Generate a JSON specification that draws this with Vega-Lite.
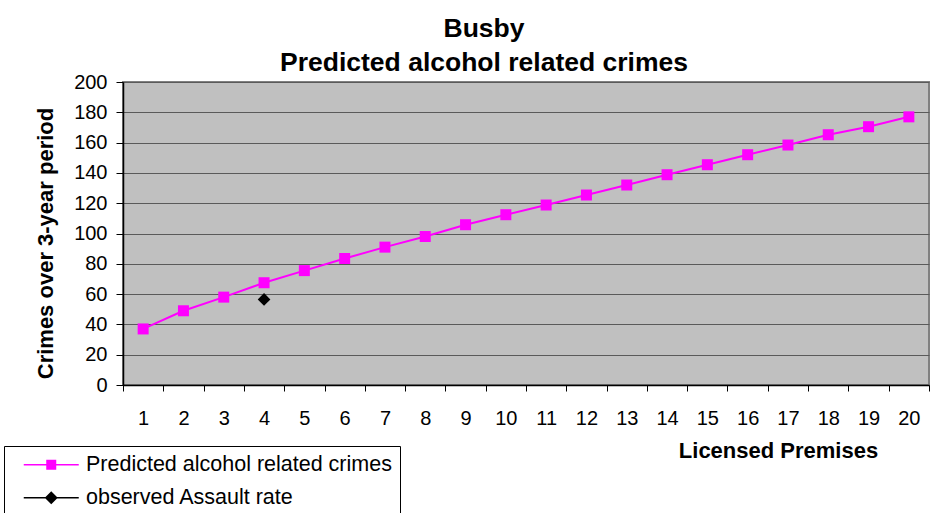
{
  "$schema": "https://vega.github.io/schema/vega-lite/v6.json",
  "autosize": "none",
  "width": 806,
  "height": 303,
  "padding": {"left": 123, "top": 82, "right": 17, "bottom": 128},
  "background": "white",
  "config": {
    "font": "Liberation Sans",
    "view": {"fill": "#c0c0c0", "stroke": "#808080", "strokeWidth": 2}
  },
  "title": {
    "text": ["Busby", "Predicted alcohol related crimes"],
    "fontSize": 26.5,
    "fontWeight": "bold",
    "font": "Liberation Sans",
    "color": "black",
    "anchor": "middle",
    "dx": -42,
    "dy": 11,
    "offset": 7,
    "lineHeight": 34
  },
  "data": {
    "values": [
      {"premises": 1, "series": "Predicted alcohol related crimes", "crimes": 37},
      {"premises": 2, "series": "Predicted alcohol related crimes", "crimes": 49},
      {"premises": 3, "series": "Predicted alcohol related crimes", "crimes": 58},
      {"premises": 4, "series": "Predicted alcohol related crimes", "crimes": 67.5},
      {"premises": 5, "series": "Predicted alcohol related crimes", "crimes": 75.5},
      {"premises": 6, "series": "Predicted alcohol related crimes", "crimes": 83.5},
      {"premises": 7, "series": "Predicted alcohol related crimes", "crimes": 91},
      {"premises": 8, "series": "Predicted alcohol related crimes", "crimes": 98},
      {"premises": 9, "series": "Predicted alcohol related crimes", "crimes": 105.8},
      {"premises": 10, "series": "Predicted alcohol related crimes", "crimes": 112.4},
      {"premises": 11, "series": "Predicted alcohol related crimes", "crimes": 118.8},
      {"premises": 12, "series": "Predicted alcohol related crimes", "crimes": 125.4},
      {"premises": 13, "series": "Predicted alcohol related crimes", "crimes": 132},
      {"premises": 14, "series": "Predicted alcohol related crimes", "crimes": 138.8},
      {"premises": 15, "series": "Predicted alcohol related crimes", "crimes": 145.4},
      {"premises": 16, "series": "Predicted alcohol related crimes", "crimes": 152},
      {"premises": 17, "series": "Predicted alcohol related crimes", "crimes": 158.4},
      {"premises": 18, "series": "Predicted alcohol related crimes", "crimes": 165.2},
      {"premises": 19, "series": "Predicted alcohol related crimes", "crimes": 170.5},
      {"premises": 20, "series": "Predicted alcohol related crimes", "crimes": 177},
      {"premises": 4, "series": "observed Assault rate", "crimes": 56.5}
    ]
  },
  "encoding": {
    "x": {
      "field": "premises",
      "type": "ordinal",
      "scale": {"domain": [1,2,3,4,5,6,7,8,9,10,11,12,13,14,15,16,17,18,19,20], "paddingInner": 0, "paddingOuter": 0},
      "axis": {
        "title": "Licensed Premises",
        "titleFontSize": 22,
        "titleFontWeight": "bold",
        "titleColor": "black",
        "titleX": 655,
        "titleY": 65,
        "titleAlign": "center",
        "titleBaseline": "middle",
        "labelAngle": 0,
        "labelFontSize": 20,
        "labelColor": "black",
        "labelPadding": 17,
        "tickBand": "extent",
        "tickSize": 6,
        "tickColor": "black",
        "domainColor": "black",
        "domainWidth": 1.5,
        "grid": false
      }
    },
    "y": {
      "field": "crimes",
      "type": "quantitative",
      "scale": {"domain": [0, 200], "nice": false, "zero": true},
      "axis": {
        "title": "Crimes over 3-year period",
        "titleFontSize": 22,
        "titleFontWeight": "bold",
        "titleColor": "black",
        "titleX": -78,
        "titleY": 161,
        "titleAngle": 270,
        "titleAlign": "center",
        "titleBaseline": "middle",
        "values": [0,20,40,60,80,100,120,140,160,180,200],
        "labelFontSize": 20,
        "labelColor": "black",
        "labelPadding": 9,
        "tickSize": 7,
        "tickColor": "black",
        "domainColor": "black",
        "domainWidth": 1.5,
        "grid": true,
        "gridColor": "#5a5a5a",
        "gridWidth": 1.2
      }
    }
  },
  "layer": [
    {
      "transform": [{"filter": "datum.series == 'Predicted alcohol related crimes'"}],
      "mark": {"type": "line", "color": "#ff00ff", "strokeWidth": 2}
    },
    {
      "transform": [{"filter": "datum.series == 'Predicted alcohol related crimes'"}],
      "mark": {"type": "point", "shape": "square", "filled": true, "color": "#ff00ff", "size": 121, "opacity": 1}
    },
    {
      "transform": [{"filter": "datum.series == 'observed Assault rate'"}],
      "mark": {"type": "point", "shape": "diamond", "filled": true, "color": "black", "size": 160, "opacity": 1}
    },
    {
      "mark": {"type": "point", "filled": true, "opacity": 0},
      "encoding": {
        "color": {
          "field": "series",
          "type": "nominal",
          "scale": {"domain": ["Predicted alcohol related crimes", "observed Assault rate"], "range": ["#ff00ff", "black"]},
          "legend": {
            "title": null,
            "orient": "none",
            "legendX": -119,
            "legendY": 364,
            "strokeColor": "black",
            "fillColor": "white",
            "padding": 8,
            "labelFontSize": 21.5,
            "labelColor": "black",
            "labelFont": "Liberation Sans",
            "labelOffset": 24,
            "labelLimit": 400,
            "symbolSize": 100,
            "symbolOffset": 28.5,
            "symbolStrokeWidth": 0,
            "symbolOpacity": 1,
            "rowPadding": 10,
            "encode": {"symbols": {"update": {"opacity": {"value": 1}}}}
          }
        },
        "shape": {
          "field": "series",
          "type": "nominal",
          "scale": {
            "domain": ["Predicted alcohol related crimes", "observed Assault rate"],
            "range": [
              "M-5.5,-0.15H5.5V0.15H-5.5Z M-1,-1H1V1H-1Z",
              "M-5.5,-0.15H5.5V0.15H-5.5Z M0,-1.3L1.3,0L0,1.3L-1.3,0Z"
            ]
          },
          "legend": {
            "title": null,
            "orient": "none",
            "legendX": -119,
            "legendY": 364,
            "strokeColor": "black",
            "fillColor": "white",
            "padding": 8,
            "labelFontSize": 21.5,
            "labelColor": "black",
            "labelFont": "Liberation Sans",
            "labelOffset": 24,
            "labelLimit": 400,
            "symbolSize": 100,
            "symbolOffset": 28.5,
            "symbolStrokeWidth": 0,
            "symbolOpacity": 1,
            "rowPadding": 10,
            "encode": {"symbols": {"update": {"opacity": {"value": 1}}}}
          }
        }
      }
    }
  ]
}
